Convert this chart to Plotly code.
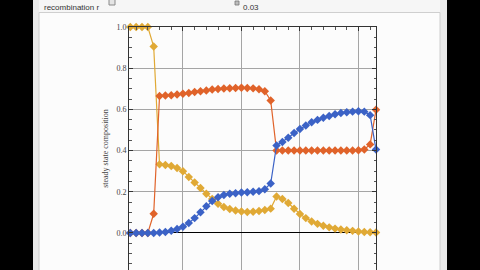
import plotly.graph_objects as go

# recombination values (x) : 43 points, 0.01 .. 0.43
r_vals = [round(0.01 * (i + 1), 2) for i in range(43)]

yellow = [1.0, 1.0, 1.0, 1.0, 0.905, 0.333, 0.330, 0.325, 0.315, 0.300,
          0.272, 0.245, 0.218, 0.190, 0.165, 0.142, 0.126, 0.116, 0.109, 0.104,
          0.102, 0.103, 0.106, 0.111, 0.118, 0.177, 0.165, 0.145, 0.117, 0.092,
          0.072, 0.056, 0.044, 0.035, 0.027, 0.021, 0.017, 0.013, 0.010, 0.007,
          0.005, 0.003, 0.002]

orange = [0.0, 0.0, 0.0, 0.0, 0.093, 0.665, 0.667, 0.669, 0.672, 0.676,
          0.680, 0.684, 0.688, 0.692, 0.696, 0.699, 0.701, 0.703, 0.704, 0.705,
          0.704, 0.702, 0.698, 0.688, 0.643, 0.400, 0.400, 0.400, 0.400, 0.400,
          0.400, 0.400, 0.400, 0.400, 0.400, 0.400, 0.400, 0.400, 0.400, 0.401,
          0.405, 0.430, 0.598]

blue = [0.0, 0.0, 0.0, 0.0, 0.0, 0.002, 0.005, 0.011, 0.019, 0.030,
        0.048, 0.072, 0.100, 0.130, 0.155, 0.173, 0.184, 0.190, 0.193, 0.196,
        0.198, 0.200, 0.203, 0.212, 0.240, 0.425, 0.442, 0.462, 0.485, 0.505,
        0.522, 0.537, 0.549, 0.559, 0.568, 0.576, 0.582, 0.586, 0.589, 0.591,
        0.589, 0.572, 0.405]

y_ticks = [0.0, 0.2, 0.4, 0.6, 0.8, 1.0]
y_ticklabels = ["0.0", "0.2", "0.4", "0.6", "0.8", "1.0"]
x_ticks = [0.1, 0.2, 0.3, 0.4]

C_YEL = "#e0a935"
C_ORG = "#e0632a"
C_BLU = "#3b62c6"

fig = go.Figure()
for vals, col in [(yellow, C_YEL), (orange, C_ORG), (blue, C_BLU)]:
    fig.add_trace(go.Scatter(
        x=r_vals, y=vals, mode="lines+markers",
        line=dict(color=col, width=1.2),
        marker=dict(symbol="diamond", size=6.5, color=col, line=dict(width=0)),
        cliponaxis=False, showlegend=False, hoverinfo="skip"))

# layout geometry (pixels)
L, R, T, B = 129, 376, 27, 270
W, H = R - L, B - T

def xp(px):
    return (px - L) / W

def yp(py):
    return (B - py) / H

shapes = [
    dict(type="rect", xref="paper", yref="paper", x0=xp(33), x1=xp(447),
         y0=yp(0), y1=yp(270), fillcolor="#ebebeb", line=dict(width=0), layer="below"),
    dict(type="rect", xref="paper", yref="paper", x0=xp(39), x1=xp(440),
         y0=yp(-2), y1=yp(12), fillcolor="#f6f6f6", line=dict(width=0), layer="below"),
    dict(type="rect", xref="paper", yref="paper", x0=xp(39), x1=xp(440),
         y0=yp(12.5), y1=yp(272), fillcolor="#fcfcfc",
         line=dict(color="#cfcfcf", width=1), layer="below"),
    dict(type="rect", xref="paper", yref="paper", x0=xp(109), x1=xp(115),
         y0=yp(-3), y1=yp(5), fillcolor="#e4e4e4",
         line=dict(color="#8a8a8a", width=1), layer="below"),
    dict(type="rect", xref="paper", yref="paper", x0=xp(235), x1=xp(239),
         y0=yp(1), y1=yp(5), fillcolor="#bdbdbd",
         line=dict(color="#777777", width=0.8), layer="below"),
]

annotations = [
    dict(text="recombination r", xref="paper", yref="paper", x=xp(42), y=yp(0.5),
         xanchor="left", yanchor="top", showarrow=False,
         font=dict(family="Liberation Sans", size=8, color="#333333")),
    dict(text="0.03", xref="paper", yref="paper", x=xp(241), y=yp(0.5),
         xanchor="left", yanchor="top", showarrow=False,
         font=dict(family="Liberation Sans", size=8, color="#333333")),
]

fig.update_layout(
    width=480, height=270,
    margin=dict(l=L, r=480 - R, t=T, b=0, pad=0),
    paper_bgcolor="#000000", plot_bgcolor="#ffffff",
    shapes=shapes, annotations=annotations,
    xaxis=dict(range=[0.0078, 0.43], side="top", tickvals=x_ticks,
               showticklabels=False, ticks="inside", ticklen=4, tickcolor="#333333",
               minor=dict(dtick=0.02, tick0=0, ticks="inside", ticklen=2.5,
                          tickcolor="#555555", showgrid=False),
               showgrid=True, gridcolor="#a5a5a5", gridwidth=1,
               showline=True, linecolor="#333333", linewidth=1, mirror=False,
               zeroline=False, automargin=False, fixedrange=True),
    yaxis=dict(range=[-0.18, 1.0], tickvals=y_ticks, ticktext=y_ticklabels,
               ticks="inside", ticklen=4, tickcolor="#333333",
               minor=dict(dtick=0.05, tick0=0, ticks="inside", ticklen=2.5,
                          tickcolor="#555555", showgrid=False),
               showgrid=True, gridcolor="#a5a5a5", gridwidth=1,
               showline=True, linecolor="#333333", linewidth=1, mirror="ticks",
               zeroline=True, zerolinecolor="#000000", zerolinewidth=1,
               tickfont=dict(family="Liberation Serif", size=8, color="#444444"),
               title=dict(text="steady state composition", standoff=6,
                          font=dict(family="Liberation Serif", size=8, color="#444444")),
               automargin=False, fixedrange=True),
)

fig.write_html("out.html", config={"displayModeBar": False})
